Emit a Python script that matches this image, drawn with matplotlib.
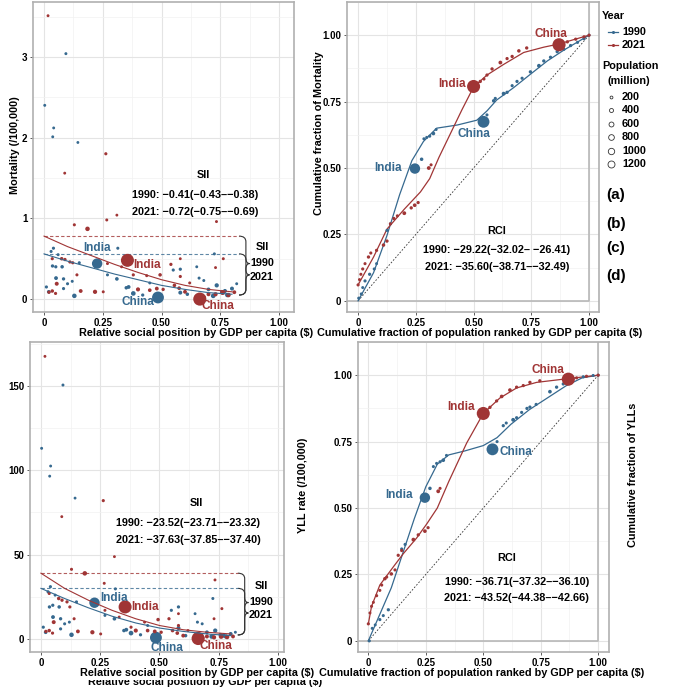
import numpy as np
import matplotlib
matplotlib.use("Agg")
import matplotlib.pyplot as plt
from matplotlib.path import Path
from matplotlib.patches import PathPatch, Rectangle
from matplotlib.lines import Line2D

plt.rcParams['font.family'] = ['Liberation Sans', 'DejaVu Sans']
plt.rcParams['font.weight'] = 'bold'
plt.rcParams['axes.labelweight'] = 'bold'

W, H = 673, 700
BLUE = '#36698f'
RED = '#a03535'

# ---- scatter panels (a/c): one entry per country, India and China first
rank_90 = [0.226, 0.485, 0.093, 0.003, 0.041, 0.037, 0.144, 0.314, 0.725, 0.04, 0.03, 0.036,
           0.05, 0.077, 0.051, 0.083, 0.083, 0.10, 0.129, 0.31, 0.35, 0.36, 0.38, 0.58, 0.66,
           0.68, 0.735, 0.757, 0.80, 0.82, 0.61, 0.55, 0.02, 0.06, 0.15, 0.27, 0.42, 0.58,
           0.70, 0.77, 0.65, 0.12, 0.01, 0.45, 0.72, 0.78]
pop_90 = [870, 1150, 10, 8, 5, 6, 4, 15, 12, 20, 15, 30, 25, 40, 60, 30, 20, 15, 110, 50, 40,
          60, 120, 25, 12, 10, 90, 60, 70, 8, 40, 20, 50, 10, 15, 12, 25, 70, 55, 80, 6, 10,
          20, 10, 120, 100]
mort_90 = [0.44, 0.02, 3.04, 2.40, 2.12, 2.01, 1.94, 0.63, 0.56, 0.63, 0.59, 0.41, 0.40, 0.40,
           0.26, 0.25, 0.13, 0.19, 0.04, 0.25, 0.14, 0.15, 0.07, 0.37, 0.26, 0.23, 0.17, 0.09,
           0.13, 0.19, 0.06, 0.36, 0.09, 0.55, 0.45, 0.30, 0.05, 0.08, 0.12, 0.10, 0.40, 0.22,
           0.15, 0.20, 0.04, 0.05]
yll_90 = [21.5, 0.8, 150.5, 113, 102.5, 96.5, 83.5, 29.7, 24, 31, 28, 19, 20, 19, 13, 12, 6,
          9, 2.5, 12, 5, 5.5, 3.5, 19, 10, 9, 5, 2.5, 3, 4, 2, 17, 4, 26, 22, 14, 2.5, 6.5, 4,
          2, 15, 10, 7, 8, 1.5, 1.5]

rank_21 = [0.355, 0.663, 0.017, 0.088, 0.263, 0.267, 0.31, 0.129, 0.185, 0.734, 0.494, 0.437,
           0.217, 0.252, 0.156, 0.054, 0.075, 0.089, 0.11, 0.122, 0.035, 0.021, 0.035, 0.049,
           0.48, 0.45, 0.27, 0.763, 0.58, 0.54, 0.73, 0.58, 0.555, 0.507, 0.575, 0.785, 0.81,
           0.73, 0.70, 0.60, 0.38, 0.40, 0.14, 0.62, 0.76, 0.68, 0.33]
pop_21 = [1400, 1420, 6, 5, 20, 10, 4, 15, 110, 8, 40, 10, 90, 10, 60, 70, 40, 30, 25, 20, 20,
          30, 40, 20, 60, 50, 10, 10, 4, 25, 6, 20, 45, 30, 50, 110, 60, 90, 70, 60, 20, 80,
          15, 10, 130, 100, 8]
mort_21 = [0.48, 0.0, 3.51, 1.56, 1.80, 0.98, 1.04, 0.92, 0.87, 0.96, 0.30, 0.29, 0.09, 0.09,
           0.10, 0.19, 0.50, 0.49, 0.46, 0.45, 0.50, 0.085, 0.10, 0.07, 0.13, 0.11, 0.44, 0.50,
           0.50, 0.43, 0.39, 0.28, 0.17, 0.12, 0.135, 0.05, 0.085, 0.06, 0.06, 0.09, 0.30,
           0.12, 0.30, 0.20, 0.08, 0.02, 0.40]
yll_21 = [19, 0.3, 167.5, 72.5, 82, 33, 48.8, 41.3, 38.9, 35, 11.5, 10, 4, 3, 4.5, 10, 24, 23,
          22, 19, 27, 4.5, 5, 3.5, 4.5, 5, 17, 18, 15, 12, 12, 8, 5, 4, 3.5, 1.2, 1.5, 1, 1.5,
          2, 7, 5, 12, 5, 1.5, 0.8, 13]

# fitted SII curves
fit_x = [0, 0.1, 0.2, 0.3, 0.4, 0.5, 0.6, 0.7, 0.8]
fit_mort_90 = [0.56, 0.47, 0.39, 0.31, 0.24, 0.17, 0.12, 0.08, 0.06]
fit_mort_21 = [0.78, 0.65, 0.54, 0.43, 0.33, 0.24, 0.17, 0.12, 0.09]
fit_yll_90 = [30, 24, 18.5, 13.5, 9.5, 6.5, 4.5, 3, 2]
fit_yll_21 = [39, 30, 23, 17, 12, 8, 5.5, 4, 3]

# ---- concentration curves (b/d)
cm_x_90 = [0.003, 0.014, 0.02, 0.03, 0.05, 0.07, 0.08, 0.125, 0.14, 0.246, 0.275, 0.285, 0.297,
           0.31, 0.326, 0.338, 0.543, 0.558, 0.587, 0.594, 0.63, 0.645, 0.667, 0.688, 0.71,
           0.746, 0.783, 0.804, 0.833, 0.862, 0.891, 0.92, 0.95, 0.978, 1.0]
cm_y_90 = [0.01, 0.026, 0.05, 0.075, 0.10, 0.12, 0.14, 0.265, 0.29, 0.498, 0.533, 0.61, 0.615,
           0.62, 0.63, 0.645, 0.674, 0.70, 0.753, 0.762, 0.78, 0.785, 0.81, 0.826, 0.838,
           0.862, 0.885, 0.903, 0.917, 0.938, 0.947, 0.961, 0.973, 0.987, 1.0]
cm_p_90 = [20, 15, 10, 20, 25, 15, 10, 15, 10, 870, 40, 15, 15, 20, 50, 10, 1150, 15, 40, 20,
           60, 30, 20, 25, 20, 30, 60, 30, 25, 30, 20, 25, 20, 15, 10]
cm_x_21 = [0.0, 0.006, 0.012, 0.02, 0.03, 0.045, 0.055, 0.08, 0.11, 0.125, 0.14, 0.155, 0.17,
           0.2, 0.23, 0.245, 0.26, 0.306, 0.316, 0.5, 0.529, 0.545, 0.558, 0.58, 0.616, 0.645,
           0.667, 0.696, 0.73, 0.87, 0.906, 0.942, 0.978, 1.0]
cm_y_21 = [0.06, 0.08, 0.10, 0.12, 0.14, 0.165, 0.18, 0.19, 0.21, 0.225, 0.29, 0.31, 0.32,
           0.33, 0.35, 0.36, 0.37, 0.50, 0.512, 0.807, 0.826, 0.835, 0.85, 0.873, 0.897, 0.912,
           0.92, 0.941, 0.952, 0.964, 0.975, 0.985, 0.994, 1.0]
cm_p_21 = [20, 10, 15, 20, 15, 30, 20, 25, 40, 30, 20, 25, 15, 60, 30, 50, 25, 60, 15, 1400,
           30, 15, 25, 30, 60, 25, 30, 40, 30, 1420, 30, 25, 20, 20]
cm_line_x_90 = [0, 0.067, 0.125, 0.18, 0.233, 0.283, 0.34, 0.43, 0.514, 0.558, 0.6, 0.674,
                0.746, 0.819, 0.891, 1.0]
cm_line_y_90 = [0, 0.106, 0.246, 0.40, 0.528, 0.60, 0.65, 0.662, 0.68, 0.715, 0.756, 0.803,
                0.853, 0.903, 0.944, 1.0]
cm_line_x_21 = [0, 0.067, 0.125, 0.2, 0.27, 0.31, 0.35, 0.4, 0.45, 0.5, 0.558, 0.63, 0.717,
                0.804, 0.87, 0.94, 1.0]
cm_line_y_21 = [0.06, 0.165, 0.27, 0.345, 0.41, 0.46, 0.54, 0.63, 0.72, 0.805, 0.85, 0.89,
                0.935, 0.955, 0.967, 0.985, 1.0]

cy_x_90 = [0.004, 0.017, 0.03, 0.05, 0.065, 0.087, 0.145, 0.16, 0.246, 0.268, 0.283, 0.297,
           0.312, 0.326, 0.34, 0.54, 0.56, 0.587, 0.6, 0.63, 0.645, 0.667, 0.69, 0.703, 0.73,
           0.79, 0.819, 0.848, 0.89, 0.935, 0.978, 1.0]
cy_y_90 = [0.0, 0.047, 0.06, 0.08, 0.095, 0.117, 0.346, 0.363, 0.539, 0.574, 0.656, 0.668,
           0.674, 0.68, 0.698, 0.721, 0.75, 0.81, 0.82, 0.832, 0.84, 0.86, 0.875, 0.88, 0.89,
           0.938, 0.955, 0.967, 0.987, 0.994, 0.999, 1.0]
cy_p_90 = [20, 15, 10, 20, 15, 25, 15, 20, 870, 40, 15, 15, 20, 50, 15, 1150, 15, 25, 15, 60,
           20, 20, 25, 25, 20, 50, 30, 25, 30, 20, 15, 10]
cy_x_21 = [0.0, 0.007, 0.014, 0.022, 0.036, 0.05, 0.058, 0.072, 0.08, 0.10, 0.116, 0.13, 0.145,
           0.196, 0.217, 0.246, 0.26, 0.304, 0.312, 0.5, 0.529, 0.558, 0.58, 0.616, 0.645,
           0.674, 0.703, 0.746, 0.87, 0.906, 0.949, 1.0]
cy_y_21 = [0.064, 0.105, 0.13, 0.145, 0.17, 0.19, 0.21, 0.234, 0.24, 0.252, 0.267, 0.322, 0.34,
           0.381, 0.399, 0.413, 0.426, 0.563, 0.574, 0.856, 0.879, 0.903, 0.92, 0.944, 0.955,
           0.961, 0.973, 0.979, 0.985, 0.99, 0.996, 1.0]
cy_p_21 = [20, 10, 15, 10, 20, 15, 20, 40, 15, 40, 20, 25, 20, 60, 25, 50, 20, 60, 15, 1400,
           30, 25, 50, 50, 25, 25, 30, 25, 1420, 20, 20, 20]
cy_line_x_90 = [0, 0.05, 0.1, 0.15, 0.2, 0.25, 0.3, 0.35, 0.42, 0.5, 0.56, 0.62, 0.7, 0.78,
                0.86, 0.93, 1.0]
cy_line_y_90 = [0, 0.1, 0.2, 0.33, 0.46, 0.58, 0.665, 0.70, 0.715, 0.735, 0.765, 0.815, 0.87,
                0.915, 0.96, 0.99, 1.0]
cy_line_x_21 = [0, 0.014, 0.05, 0.11, 0.152, 0.21, 0.254, 0.3, 0.35, 0.428, 0.5, 0.572, 0.645,
                0.732, 0.848, 1.0]
cy_line_y_21 = [0.064, 0.13, 0.21, 0.28, 0.328, 0.387, 0.44, 0.50, 0.60, 0.745, 0.856, 0.914,
                0.952, 0.973, 0.985, 1.0]

names = ['India', 'China']
sii_text = ['1990: \u22120.41(\u22120.43\u2013\u22120.38)', '2021: \u22120.72(\u22120.75\u2013\u22120.69)']
sii_text_yll = ['1990: \u221223.52(\u221223.71\u2013\u221223.32)', '2021: \u221237.63(\u221237.85\u2013\u221237.40)']
rci_text = ['1990: \u221229.22(\u221232.02\u2013 \u221226.41)', '2021: \u221235.60(\u221238.71\u2013\u221232.49)']
rci_text_yll = ['1990: \u221236.71(\u221237.32\u2013\u221236.10)', '2021: \u221243.52(\u221244.38\u2013\u221242.66)']
pop_legend = [200, 400, 600, 800, 1000, 1200]


def sz(p):
    return 4 + np.asarray(p) * 0.06


def px_axes(fig, l, t, r, b):
    return fig.add_axes([l / W, 1 - b / H, (r - l) / W, (b - t) / H])


def style(ax, xlim, ylim, yt, ylab):
    ax.set_xlim(*xlim)
    ax.set_ylim(*ylim)
    ax.set_xticks([0, 0.25, 0.5, 0.75, 1.0])
    ax.set_xticklabels(['0', '0.25', '0.50', '0.75', '1.00'])
    ax.set_xticks([0.125, 0.375, 0.625, 0.875], minor=True)
    ax.set_yticks(yt)
    ax.set_yticklabels(ylab)
    step = yt[1] - yt[0]
    ax.set_yticks([v + step / 2 for v in yt], minor=True)
    ax.grid(True, which='major', color='#e4e4e4', lw=0.8)
    ax.grid(True, which='minor', color='#f1f1f1', lw=0.5)
    ax.set_axisbelow(True)
    ax.tick_params(which='major', direction='out', length=2.5, width=0.6, color='#444444',
                   labelsize=7, pad=1.5)
    ax.tick_params(which='minor', length=0)
    for s in ax.spines.values():
        s.set_color('#b0b0b0')
        s.set_linewidth(1.2)


def brace(ax, x0, y_top, y_bot, y_tip, w, d):
    xm = x0 + w * 0.65
    xt = x0 + w
    verts = [(x0, y_top), (xm, y_top), (xm, y_top - d),
             (xm, y_tip + d), (xm, y_tip), (xt, y_tip),
             (xm, y_tip), (xm, y_tip - d),
             (xm, y_bot + d), (xm, y_bot), (x0, y_bot)]
    codes = [Path.MOVETO, Path.CURVE3, Path.CURVE3,
             Path.LINETO, Path.CURVE3, Path.CURVE3,
             Path.CURVE3, Path.CURVE3,
             Path.LINETO, Path.CURVE3, Path.CURVE3]
    ax.add_patch(PathPatch(Path(verts, codes), fc='none', ec='#333333', lw=0.8))


def label(ax, x, y, name, color, off, ha='center'):
    ax.annotate(name, xy=(x, y), xytext=off, textcoords='offset pixels', ha=ha, va='center',
                color=color, fontsize=8.5, fontweight='bold')


def sii_panel(ax, y90, y21, f90, f21, texts, lab_off, sii_pos, br):
    ax.scatter(rank_90, y90, s=sz(pop_90), c=BLUE, edgecolors='none', zorder=3)
    ax.scatter(rank_21, y21, s=sz(pop_21), c=RED, edgecolors='none', zorder=3)
    ax.plot(fit_x, f90, color=BLUE, lw=0.8, zorder=4)
    ax.plot(fit_x, f21, color=RED, lw=0.8, zorder=4)
    ax.plot([0, 0.83], [f21[0], f21[0]], color=RED, lw=0.8, ls=(0, (3, 2)), alpha=0.8)
    ax.plot([0, 0.83], [f90[0], f90[0]], color=BLUE, lw=0.8, ls=(0, (3, 2)), alpha=0.8)
    y_bot, tips, labs, d = br
    brace(ax, 0.83, f21[0], y_bot, tips[0], 0.045, d)
    brace(ax, 0.83, f90[0], y_bot, tips[1], 0.045, d)
    ax.text(0.928, labs[0], 'SII', ha='center', va='center', fontsize=7.8)
    ax.text(0.928, labs[1], '1990', ha='center', va='center', fontsize=7.8)
    ax.text(0.928, labs[2], '2021', ha='center', va='center', fontsize=7.8)
    tx, ty = sii_pos
    ax.text(tx + 0.03, ty[0], 'SII', transform=ax.transAxes, ha='center', va='center', fontsize=7.8)
    ax.text(tx, ty[1], texts[0], transform=ax.transAxes, ha='center', va='center', fontsize=7.8)
    ax.text(tx, ty[2], texts[1], transform=ax.transAxes, ha='center', va='center', fontsize=7.8)
    for i, n in enumerate(names):
        o = lab_off[0][i]
        label(ax, rank_90[i], y90[i], n, BLUE, o[:2], o[2])
        o = lab_off[1][i]
        label(ax, rank_21[i], y21[i], n, RED, o[:2], o[2])


def rci_panel(ax, x90, y90, p90, x21, y21, p21, l90, l21, texts, lab_off, rci_pos):
    xl = ax.get_xlim()
    yl = ax.get_ylim()
    ax.plot([xl[0], 1, 1], [0, 0, yl[1]], color='#b8b8b8', lw=1.2, zorder=1)
    ax.plot([0, 1], [0, 1], color='#333333', lw=0.6, ls=(0, (2, 2)), zorder=2)
    ax.plot(l90[0], l90[1], color=BLUE, lw=0.9, zorder=3)
    ax.plot(l21[0], l21[1], color=RED, lw=0.9, zorder=3)
    ax.scatter(x90, y90, s=sz(p90), c=BLUE, edgecolors='none', zorder=4)
    ax.scatter(x21, y21, s=sz(p21), c=RED, edgecolors='none', zorder=4)
    tx, ty = rci_pos
    ax.text(tx[0], ty[0], 'RCI', transform=ax.transAxes, ha='center', va='center', fontsize=7.8)
    ax.text(tx[1], ty[1], texts[0], transform=ax.transAxes, ha='center', va='center', fontsize=7.8)
    ax.text(tx[1], ty[2], texts[1], transform=ax.transAxes, ha='center', va='center', fontsize=7.8)
    # India and China are the two largest countries
    i90 = sorted(range(len(p90)), key=lambda k: p90[k])[-2:]
    i21 = sorted(range(len(p21)), key=lambda k: p21[k])[-2:]
    for j, n in enumerate(names):
        o = lab_off[0][j]
        k = i90[j]
        label(ax, x90[k], y90[k], n, BLUE, o[:2], o[2])
        o = lab_off[1][j]
        k = i21[j]
        label(ax, x21[k], y21[k], n, RED, o[:2], o[2])


fig = plt.figure(figsize=(W / 100, H / 100), dpi=100)

# (a) mortality SII
ax1 = px_axes(fig, 33, 2, 294, 312)
style(ax1, (-0.047, 1.064), (-0.16, 3.68), [0, 1, 2, 3], ['0', '1', '2', '3'])
sii_panel(ax1, mort_90, mort_21, fit_mort_90, fit_mort_21, sii_text,
          [[(0, 15.5, 'center'), (-20, -5, 'center')], [(5.6, -5, 'left'), (18, -7, 'center')]],
          (0.623, [0.442, 0.377, 0.323]),
          (0.05, (0.44, 0.30), (0.65, 0.45, 0.27), 0.07))

# (b) mortality RCI
ax2 = px_axes(fig, 347, 2, 599, 312)
style(ax2, (-0.048, 1.043), (-0.042, 1.049), [0, 0.25, 0.5, 0.75, 1.0],
      ['0', '0.25', '0.50', '0.75', '1.00'])
rci_panel(ax2, cm_x_90, cm_y_90, cm_p_90, cm_x_21, cm_y_21, cm_p_21,
          (cm_line_x_90, cm_line_y_90), (cm_line_x_21, cm_line_y_21), rci_text,
          [[(-13, 1, 'right'), (-10, -12, 'center')], [(-8, 2, 'right'), (-8, 11, 'center')]],
          ([0.594, 0.594], [0.26, 0.20, 0.146]))

# (c) YLL SII
ax3 = px_axes(fig, 30, 342, 284, 652)
style(ax3, (-0.046, 1.025), (-7.7, 176), [0, 50, 100, 150], ['0', '50', '100', '150'])
sii_panel(ax3, yll_90, yll_21, fit_yll_90, fit_yll_21, sii_text_yll,
          [[(6, 5, 'left'), (11, -10.6, 'center')], [(6.6, 0, 'left'), (18, -8, 'center')]],
          (0.623, [0.48, 0.415, 0.361]),
          (2.4, (21.6, 15.4), (31.4, 22.1, 14.3), 3.2))

# (d) YLL RCI
ax4 = px_axes(fig, 358, 342, 609, 652)
style(ax4, (-0.045, 1.047), (-0.042, 1.048), [0, 0.25, 0.5, 0.75, 1.0],
      ['0', '0.25', '0.50', '0.75', '1.00'])
rci_panel(ax4, cy_x_90, cy_y_90, cy_p_90, cy_x_21, cy_y_21, cy_p_21,
          (cy_line_x_90, cy_line_y_90), (cy_line_x_21, cy_line_y_21), rci_text_yll,
          [[(-12, 3, 'right'), (7, -3, 'left')], [(-8, 6, 'right'), (-20, 9, 'center')]],
          ([0.592, 0.632], [0.302, 0.227, 0.173]))


def ftext(x, y, s, **kw):
    kw.setdefault('fontsize', 7.8)
    kw.setdefault('ha', 'center')
    kw.setdefault('va', 'center')
    return fig.text(x / W, 1 - y / H, s, **kw)


xlab_rel = 'Relative social position by GDP per capita ($)'
xlab_cum = 'Cumulative fraction of population ranked by GDP per capita ($)'
ftext(196, 333, xlab_rel)
ftext(480, 333, xlab_cum)
ftext(205, 682, xlab_rel, zorder=1)
fig.add_artist(Rectangle((80 / W, 1 - 679.5 / H), 250 / W, 12 / H, transform=fig.transFigure,
                         fc='white', ec='none', zorder=2))
ftext(197.5, 673.5, xlab_rel, zorder=3)
ftext(482, 673.5, xlab_cum, zorder=3)
ftext(15, 145, 'Mortality (/100,000)', rotation=90)
ftext(318.5, 133, 'Cumulative fraction of Mortality', rotation=90)
ftext(303, 485, 'YLL rate (/100,000)', rotation=90)
ftext(633, 475, 'Cumulative fraction of YLLs', rotation=90)

# legend
ftext(602, 15.7, 'Year', ha='left')
for yy, col, yr in [(32, BLUE, '1990'), (44.5, RED, '2021')]:
    fig.add_artist(Line2D([608 / W, 618 / W], [1 - yy / H] * 2, color=col, lw=0.9,
                          transform=fig.transFigure))
    fig.add_artist(Line2D([613 / W], [1 - yy / H], color=col, marker='o', markersize=2.2,
                          markeredgewidth=0, transform=fig.transFigure))
    ftext(622, yy, yr, ha='left')
ftext(602, 66, 'Population', ha='left')
ftext(607, 81, '(million)', ha='left')
for j, p in enumerate(pop_legend):
    yy = 97 + j * 13.4
    fig.add_artist(Line2D([611 / W], [1 - yy / H], marker='o', markersize=np.sqrt(p) * 0.145,
                          markerfacecolor='none', markeredgecolor='#333333', markeredgewidth=0.6,
                          transform=fig.transFigure))
    ftext(622, yy, str(p), ha='left')
for s, yy in [('(a)', 195), ('(b)', 224), ('(c)', 248), ('(d)', 276)]:
    ftext(606, yy, s, ha='left', fontsize=11)

fig.savefig('out.png', dpi=100)
